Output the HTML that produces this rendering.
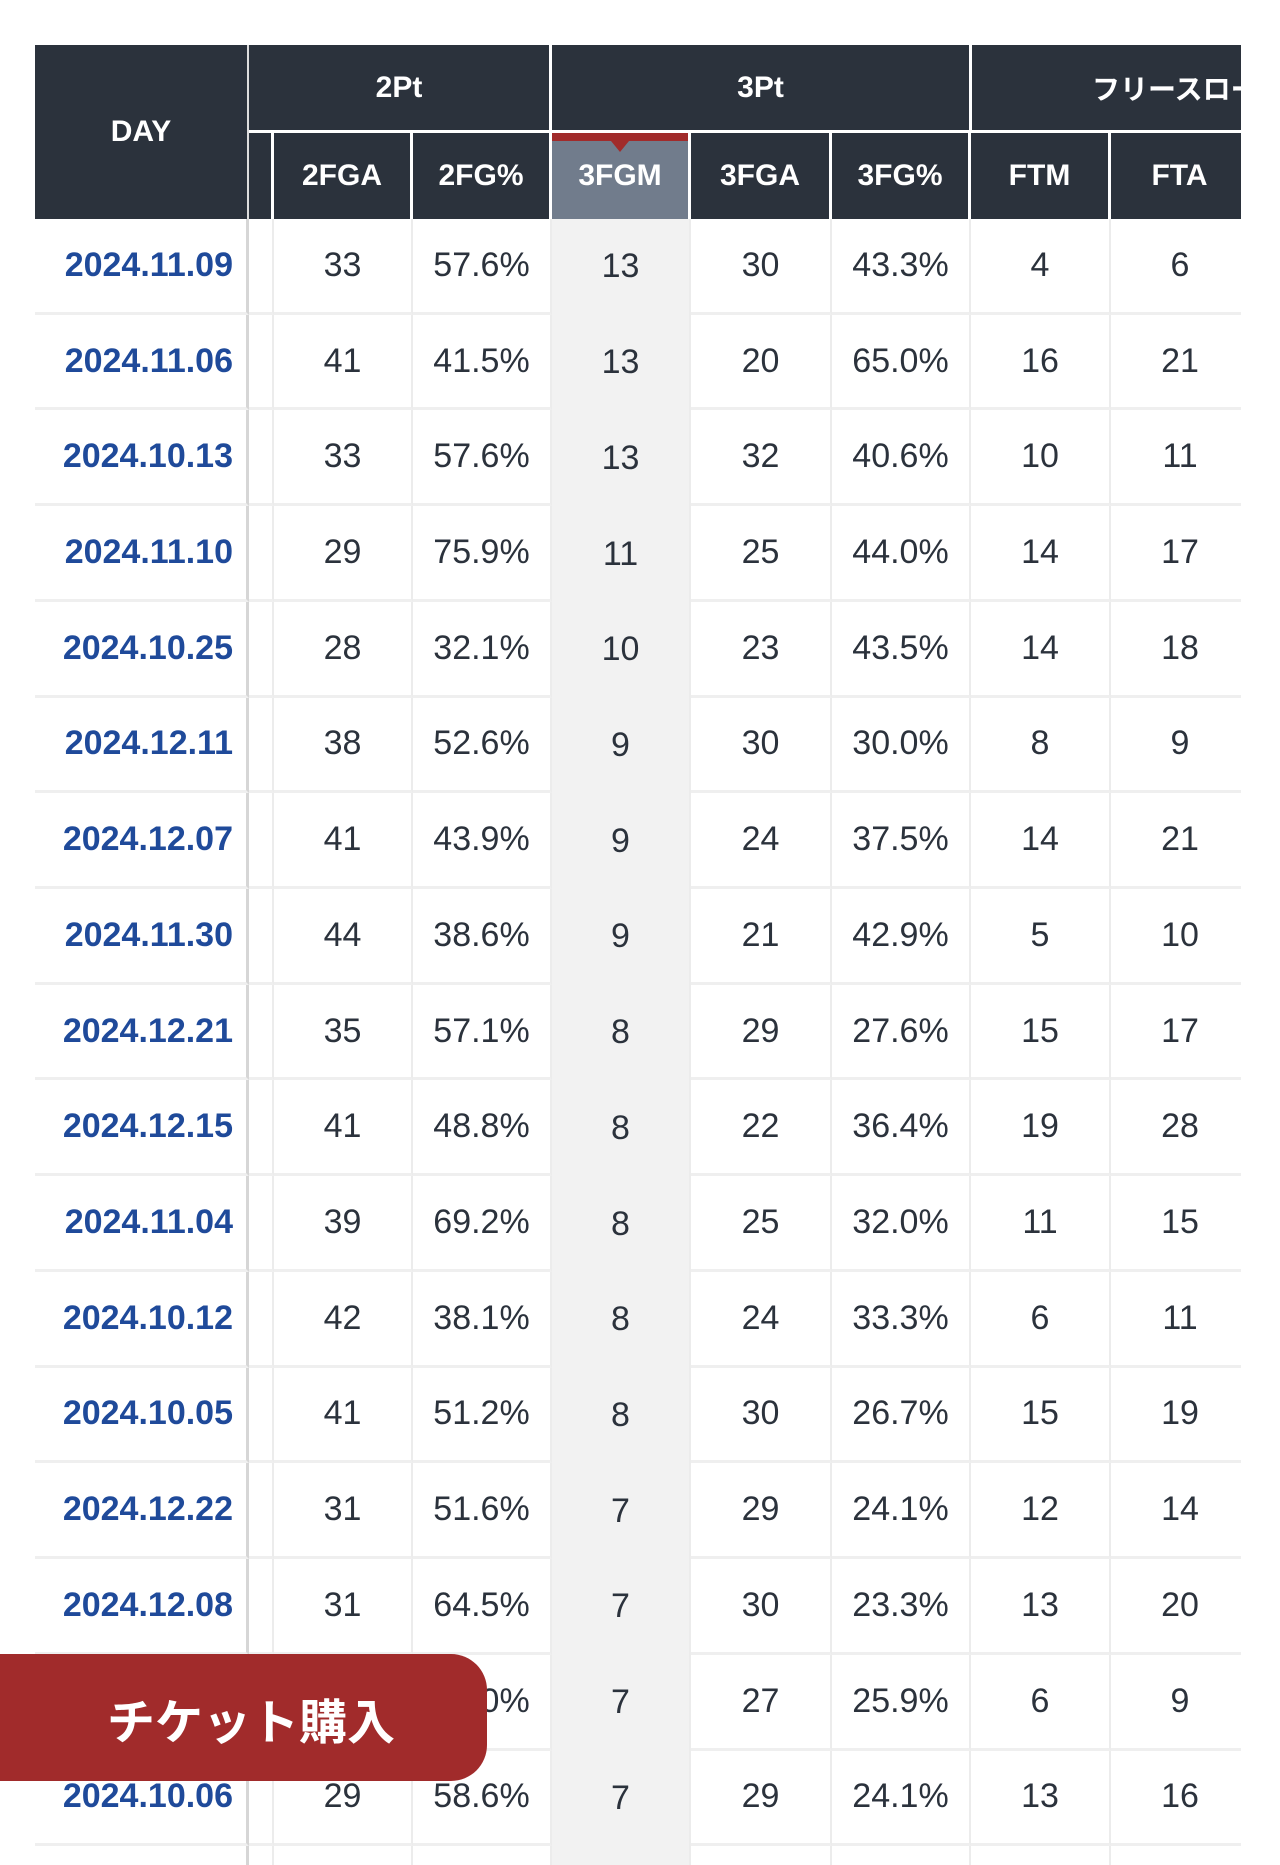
<!DOCTYPE html>
<html><head><meta charset="utf-8">
<style>
body{margin:0;width:1280px;height:1865px;background:#fff;overflow:hidden;position:relative;font-family:"Liberation Sans","Noto Sans CJK JP",sans-serif}
#wrap{position:absolute;left:35px;top:45px;width:1206px;height:1820px;overflow:hidden}
.c{position:absolute;box-sizing:border-box;display:flex;align-items:center;justify-content:center}
.h{background:#2b323c;color:#fff;font-weight:bold;font-size:30px}
.d{color:#2b323c;font-size:34px}
.dt{color:#1f4a9a;font-weight:bold;font-size:34px}
#btn{position:absolute;left:0;top:1654px;width:487px;height:127px;background:#a12b2b;border-radius:0 36px 36px 0;color:#fff;font-weight:bold;font-size:48px;display:flex;align-items:center;padding-left:107px;box-sizing:border-box;font-family:"Noto Sans CJK JP",sans-serif}
</style></head><body>
<div id="wrap"></div>
<div id="btn">チケット購入</div>
<script>
const dates=["2024.11.09","2024.11.06","2024.10.13","2024.11.10","2024.10.25","2024.12.11","2024.12.07","2024.11.30","2024.12.21","2024.12.15","2024.11.04","2024.10.12","2024.10.05","2024.12.22","2024.12.08","2024.10.20","2024.10.06",""];
const fga2=["33","41","33","29","28","38","41","44","35","41","39","42","41","31","31","27","29",""];
const fgp2=["57.6%","41.5%","57.6%","75.9%","32.1%","52.6%","43.9%","38.6%","57.1%","48.8%","69.2%","38.1%","51.2%","51.6%","64.5%","37.0%","58.6%",""];
const fgm3=["13","13","13","11","10","9","9","9","8","8","8","8","8","7","7","7","7",""];
const fga3=["30","20","32","25","23","30","24","21","29","22","25","24","30","29","30","27","29",""];
const fgp3=["43.3%","65.0%","40.6%","44.0%","43.5%","30.0%","37.5%","42.9%","27.6%","36.4%","32.0%","33.3%","26.7%","24.1%","23.3%","25.9%","24.1%",""];
const ftm=["4","16","10","14","14","8","14","5","15","19","11","6","15","12","13","6","13",""];
const fta=["6","21","11","17","18","9","21","10","17","28","15","11","19","14","20","9","16",""];
const heads=["2FGA","2FG%","3FGM","3FGA","3FG%","FTM","FTA"];
const W=document.getElementById('wrap');
const xs=[0,214,239,378,517,656,797,936,1076]; // column lefts relative to wrap
const ws=[214,25,139,139,139,141,139,140,140];
function cell(x,y,w,h,cls,txt,name){const e=document.createElement('div');e.className='c '+cls;e.style.left=x+'px';e.style.top=y+'px';e.style.width=w+'px';e.style.height=h+'px';e.textContent=txt;


W.appendChild(e);return e;}
// header
let e=cell(0,0,214,174,'h','DAY','day-header');e.style.borderRight='2px solid #ddd';
e=cell(214,0,303,88,'h','2Pt','2pt-group-header');e.style.borderRight='3px solid #fff';e.style.borderBottom='3px solid #fff';
e=cell(517,0,420,88,'h','3Pt','3pt-group-header');e.style.borderRight='3px solid #fff';e.style.borderBottom='3px solid #fff';
e=cell(937,0,400,88,'h','フリースロー','freethrow-group-header');e.style.borderBottom='3px solid #fff';e.style.justifyContent='flex-start';e.style.paddingLeft='120px';e.style.fontFamily='"Noto Sans CJK JP",sans-serif';e.style.fontSize='28px';
e=cell(214,88,25,86,'h','','hidden-column-header');e.style.borderRight='3px solid #fff';
for(let i=0;i<heads.length;i++){const c=i+2;e=cell(xs[c],88,ws[c],86,'h',heads[i],'col-header-'+heads[i].toLowerCase().replace('%','-pct'));e.style.borderRight='3px solid #fff';
if(heads[i]==='3FGM'){e.style.background='#717c8c';
const bar=document.createElement('div');bar.style.cssText='position:absolute;left:0;top:0;width:100%;height:8px;background:#a12b2b';


e.appendChild(bar);
const tri=document.createElement('div');tri.style.cssText='position:absolute;left:50%;top:8px;margin-left:-9px;border-left:9px solid transparent;border-right:9px solid transparent;border-top:11px solid #a12b2b';


e.appendChild(tri);}}
// body
const RH=95.72;const cols=[dates,null,fga2,fgp2,fgm3,fga3,fgp3,ftm,fta];
for(let r=0;r<dates.length;r++){const y=174+r*RH;
for(let c=0;c<cols.length;c++){const t=cols[c]?cols[c][r]:'';
e=cell(xs[c],y,ws[c],RH,c===0?'dt':'d',t,c===0?'date-cell':'stat-cell');
e.style.borderBottom='3px solid #efefef';
if(c===0){e.style.borderRight='3px solid #d6d6d6';e.style.justifyContent='flex-end';e.style.paddingRight='13px';}
else e.style.borderRight='2px solid #ececec';
if(c===4){e.style.background='#f2f2f2';e.style.borderBottom='none';}
}}
</script>
</body></html>
